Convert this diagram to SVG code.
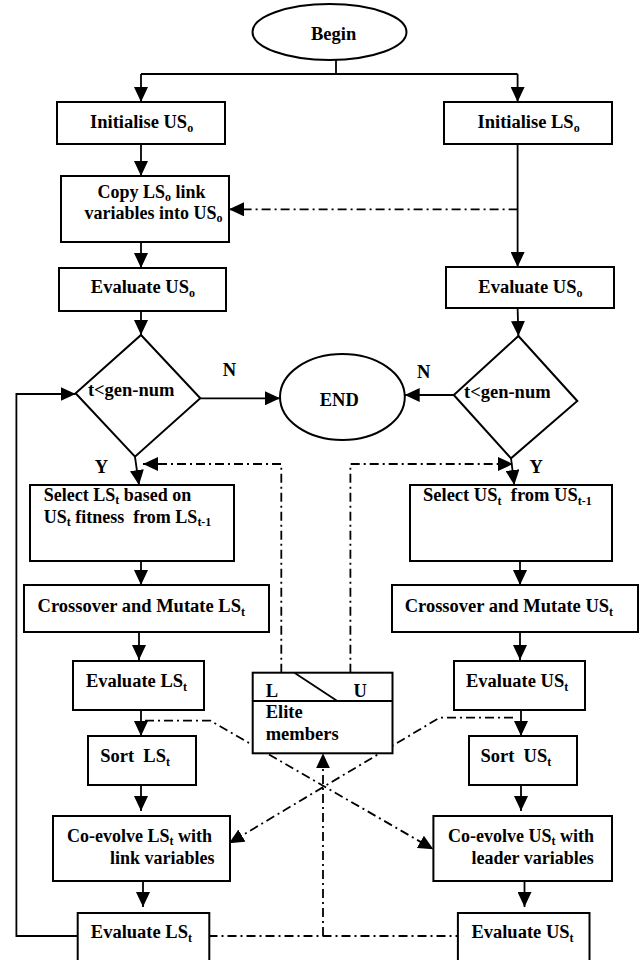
<svg xmlns="http://www.w3.org/2000/svg" width="641" height="960" viewBox="0 0 641 960">
<defs>
<marker id="ah" markerUnits="userSpaceOnUse" markerWidth="16" markerHeight="14" refX="15" refY="7" orient="auto"><path d="M0,0 L15,7 L0,14 z" fill="#000"/></marker>
</defs>
<style>
.box{fill:#fff;stroke:#000;stroke-width:2}
.ln{fill:none;stroke:#000;stroke-width:1.8}
.dd{fill:none;stroke:#000;stroke-width:1.8;stroke-dasharray:9 4 2 4}
text{font-family:"Liberation Serif","Times New Roman",serif;font-weight:bold;font-size:18.5px;fill:#000}
.two{font-size:18px}
.sub{font-size:12px}
</style>
<rect width="641" height="960" fill="#fff"/>
<g id="connectors">
<polyline class="ln" points="336,60 336,74"/>
<polyline class="ln" points="141,74 517.6,74"/>
<line class="ln" x1="141" y1="74" x2="141" y2="102" marker-end="url(#ah)"/>
<line class="ln" x1="517.6" y1="74" x2="517.6" y2="102" marker-end="url(#ah)"/>
<line class="ln" x1="141" y1="144" x2="141" y2="176" marker-end="url(#ah)"/>
<line class="ln" x1="517.6" y1="144" x2="517.6" y2="267" marker-end="url(#ah)"/>
<line class="dd" x1="517.6" y1="209.3" x2="229" y2="209.3" marker-end="url(#ah)"/>
<line class="ln" x1="141" y1="242" x2="141" y2="268" marker-end="url(#ah)"/>
<line class="ln" x1="141" y1="311" x2="141" y2="335" marker-end="url(#ah)"/>
<line class="ln" x1="517.6" y1="308" x2="518.4" y2="336" marker-end="url(#ah)"/>
<line class="ln" x1="200.3" y1="398.3" x2="280" y2="398.3" marker-end="url(#ah)"/>
<line class="ln" x1="453.8" y1="395" x2="404.7" y2="395" marker-end="url(#ah)"/>
<polyline class="ln" points="135,457 139,485" marker-end="url(#ah)"/>
<polyline class="ln" points="511,458 514.3,485" marker-end="url(#ah)"/>
<polyline class="dd" points="281.3,672.7 281.3,464 143,464" marker-end="url(#ah)"/>
<polyline class="dd" points="350.4,672.7 350.4,464 513,464" marker-end="url(#ah)"/>
<line class="ln" x1="141" y1="561" x2="141" y2="585" marker-end="url(#ah)"/>
<line class="ln" x1="520" y1="561" x2="520" y2="585" marker-end="url(#ah)"/>
<line class="ln" x1="139" y1="632" x2="139" y2="660" marker-end="url(#ah)"/>
<line class="ln" x1="520" y1="632" x2="520" y2="660" marker-end="url(#ah)"/>
<line class="ln" x1="141" y1="710" x2="141" y2="736" marker-end="url(#ah)"/>
<line class="ln" x1="521" y1="710" x2="521" y2="736" marker-end="url(#ah)"/>
<line class="ln" x1="141" y1="785" x2="141" y2="811" marker-end="url(#ah)"/>
<line class="ln" x1="521" y1="785" x2="521" y2="811" marker-end="url(#ah)"/>
<line class="ln" x1="143" y1="881" x2="143" y2="907" marker-end="url(#ah)"/>
<line class="ln" x1="524.5" y1="881" x2="524.5" y2="907" marker-end="url(#ah)"/>
<polyline class="dd" points="145,720.7 210.5,720.7 433.4,849.3" marker-end="url(#ah)"/>
<polyline class="dd" points="513,717.7 439.5,717.7 229,843.3" marker-end="url(#ah)"/>
<line class="dd" x1="208.5" y1="936" x2="457.9" y2="936"/>
<line class="dd" x1="323" y1="936" x2="323" y2="753.3" marker-end="url(#ah)"/>
<polyline class="ln" points="77.7,936 16.4,936 16.4,394 75.6,394" marker-end="url(#ah)"/>
</g>
<g id="begin"><ellipse class="box" cx="329.5" cy="32" rx="77" ry="28"/><text x="333.6" y="39.5" text-anchor="middle">Begin</text></g>
<g id="init-us"><rect class="box" x="57" y="102" width="168" height="42"/><text x="90" y="128.3">Initialise US<tspan class="sub" dy="4">o</tspan></text></g>
<g id="init-ls"><rect class="box" x="444" y="102" width="168" height="42"/><text x="477.5" y="128.3">Initialise LS<tspan class="sub" dy="4">o</tspan></text></g>
<g id="copy"><rect class="box" x="61" y="176" width="168" height="66"/><text class="two" x="97.5" y="197.5">Copy LS<tspan class="sub" dy="3">o</tspan><tspan dy="-3"> link</tspan></text><text class="two" x="84.5" y="219">variables into US<tspan class="sub" dy="3">o</tspan></text></g>
<g id="eval-us0-left"><rect class="box" x="59" y="268" width="167" height="43"/><text x="90.8" y="293">Evaluate US<tspan class="sub" dy="4">o</tspan></text></g>
<g id="eval-us0-right"><rect class="box" x="446" y="267" width="168" height="41"/><text x="478.3" y="292.7">Evaluate US<tspan class="sub" dy="4">o</tspan></text></g>
<g id="dec-left"><polygon class="box" points="141,335 200.3,398.3 135,456.7 75.6,393.3"/><text x="87.9" y="396">t&lt;gen-num</text></g>
<g id="dec-right"><polygon class="box" points="518.4,336 577.3,401 511,458.3 453.8,395"/><text x="464" y="398">t&lt;gen-num</text></g>
<g id="end"><ellipse class="box" cx="342.4" cy="397" rx="62.4" ry="43"/><text x="339.3" y="406" text-anchor="middle">END</text></g>
<g id="labels"><text x="222.8" y="375.7">N</text><text x="417" y="377.7">N</text><text x="94.8" y="473.3">Y</text><text x="529.4" y="473.3">Y</text></g>
<g id="select-ls"><rect class="box" x="30" y="485" width="204" height="76"/><text class="two" x="43.7" y="500.5">Select LS<tspan class="sub" dy="3">t</tspan><tspan dy="-3"> based on</tspan></text><text class="two" x="43.7" y="523" xml:space="preserve">US<tspan class="sub" dy="3">t</tspan><tspan dy="-3"> fitness  from LS</tspan><tspan class="sub" dy="3">t-1</tspan></text></g>
<g id="select-us"><rect class="box" x="410" y="485" width="202" height="76"/><text x="423" y="501" xml:space="preserve">Select US<tspan class="sub" dy="4">t</tspan><tspan dy="-4">  from US</tspan><tspan class="sub" dy="4">t-1</tspan></text></g>
<g id="cross-ls"><rect class="box" x="24" y="585" width="245" height="47"/><text x="37.6" y="611.7">Crossover and Mutate LS<tspan class="sub" dy="4">t</tspan></text></g>
<g id="cross-us"><rect class="box" x="392" y="585" width="246" height="47"/><text x="404.7" y="611.7">Crossover and Mutate US<tspan class="sub" dy="4">t</tspan></text></g>
<g id="eval-ls-mid"><rect class="box" x="73" y="661" width="131" height="49"/><text x="85.9" y="686.5">Evaluate LS<tspan class="sub" dy="4">t</tspan></text></g>
<g id="eval-us-mid"><rect class="box" x="454" y="661" width="131" height="49"/><text x="466" y="686.5">Evaluate US<tspan class="sub" dy="4">t</tspan></text></g>
<g id="elite"><rect class="box" x="252.7" y="672.7" width="139.8" height="80.6"/><line class="ln" x1="252.7" y1="701" x2="392.5" y2="701"/><line class="ln" x1="294.4" y1="672.7" x2="337.3" y2="701"/><text x="265.7" y="696.7">L</text><text x="353.6" y="696.7">U</text><text x="265.7" y="718">Elite</text><text x="265.7" y="739.5">members</text></g>
<g id="sort-ls"><rect class="box" x="88" y="736" width="108" height="49"/><text x="100.2" y="761.5" xml:space="preserve">Sort  LS<tspan class="sub" dy="4">t</tspan></text></g>
<g id="sort-us"><rect class="box" x="469" y="736" width="108" height="49"/><text x="480.4" y="761.5" xml:space="preserve">Sort  US<tspan class="sub" dy="4">t</tspan></text></g>
<g id="coevolve-ls"><rect class="box" x="53" y="816" width="177" height="65"/><text class="two" x="67" y="842">Co-evolve LS<tspan class="sub" dy="3">t</tspan><tspan dy="-3"> with</tspan></text><text class="two" x="110" y="864">link variables</text></g>
<g id="coevolve-us"><rect class="box" x="433.4" y="816" width="178.6" height="65"/><text class="two" x="448" y="842">Co-evolve US<tspan class="sub" dy="3">t</tspan><tspan dy="-3"> with</tspan></text><text class="two" x="471.5" y="864">leader variables</text></g>
<g id="eval-ls-bot"><rect class="box" x="77.7" y="913" width="131.6" height="60"/><text x="90.8" y="938">Evaluate LS<tspan class="sub" dy="4">t</tspan></text></g>
<g id="eval-us-bot"><rect class="box" x="457.9" y="913" width="131.6" height="60"/><text x="471.4" y="938">Evaluate US<tspan class="sub" dy="4">t</tspan></text></g>
</svg>
